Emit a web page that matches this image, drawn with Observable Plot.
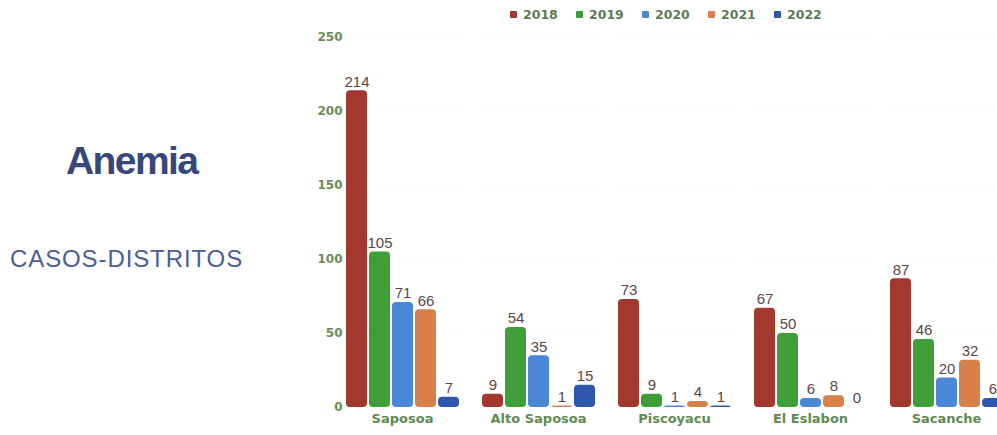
<!DOCTYPE html>
<html>
<head>
<meta charset="utf-8">
<script src="https://cdn.jsdelivr.net/npm/d3@7"></script>
<script src="https://cdn.jsdelivr.net/npm/@observablehq/plot@0.6"></script>
<style>
  html, body { margin: 0; padding: 0; background: #fff; overflow: hidden; width: 997px; height: 435px; }
  #wrap { position: relative; width: 997px; height: 435px; overflow: hidden; }
  #title { position: absolute; left: 66px; top: 139px; font-family: "Liberation Sans", Arial, sans-serif; font-weight: bold; font-size: 39px; color: #36487b; letter-spacing: -1.6px; }
  #subtitle { position: absolute; left: 10px; top: 245px; font-family: "Liberation Sans", Arial, sans-serif; font-size: 24px; color: #4a5d96; letter-spacing: 0.9px; white-space: nowrap; }
  #legend { position: absolute; top: 7px; left: 510px; display: flex; font-family: "DejaVu Sans", sans-serif; font-weight: bold; font-size: 12.5px; color: #5e7c52; }
  #legend .item { display: flex; align-items: center; width: 66px; }
  #legend .sw { width: 7px; height: 7px; border-radius: 1px; margin-right: 6px; }
  #chart { position: absolute; left: 0; top: 0; width: 1025px; }
  #chart svg { max-width: none !important; }
</style>
</head>
<body>
<div id="wrap">
  <div id="chart"></div>
  <div id="title">Anemia</div>
  <div id="subtitle">CASOS-DISTRITOS</div>
  <div id="legend"></div>
</div>
<script>
const districts = ["Saposoa", "Alto Saposoa", "Piscoyacu", "El Eslabon", "Sacanche"];
const years = ["2018", "2019", "2020", "2021", "2022"];
const v2018 = [214, 9, 73, 67, 87];
const v2019 = [105, 54, 9, 50, 46];
const v2020 = [71, 35, 1, 6, 20];
const v2021 = [66, 1, 4, 8, 32];
const v2022 = [7, 15, 1, 0, 6];
const yTicks = [0, 50, 100, 150, 200, 250];
const colors = ["#a3382f", "#3e9e38", "#4a87d6", "#d8804a", "#2e58ae"];

const series = [v2018, v2019, v2020, v2021, v2022];
const rows = [];
districts.forEach((d, i) => {
  years.forEach((y, j) => rows.push({district: d, year: y, value: series[j][i]}));
});

// legend
const leg = document.getElementById("legend");
years.forEach((y, j) => {
  const it = document.createElement("div");
  it.className = "item";
  const sw = document.createElement("span");
  sw.className = "sw";
  sw.style.background = colors[j];
  const t = document.createElement("span");
  t.textContent = y;
  it.appendChild(sw); it.appendChild(t);
  leg.appendChild(it);
});

const axisColor = "#6a8b5a";
const axisFont = "DejaVu Sans, sans-serif";
const chart = Plot.plot({
  width: 1025,
  height: 435,
  marginLeft: 333,
  marginRight: 10,
  marginTop: 37,
  marginBottom: 28,
  style: {fontFamily: "Liberation Sans, Arial, sans-serif", fontSize: "12px", background: "transparent", overflow: "visible", maxWidth: "none"},
  fx: {domain: districts, paddingInner: 0.15, paddingOuter: 0.075, label: null},
  x: {domain: years, paddingInner: 0.1, paddingOuter: 0, axis: null},
  y: {domain: [0, 250], ticks: yTicks, label: null},
  color: {domain: years, range: colors},
  marks: [
    Plot.gridY(yTicks.filter(t => t > 0), {stroke: "#000", strokeOpacity: 0.02}),
    Plot.axisY(yTicks, {tickSize: 0, tickPadding: 2, fill: axisColor, fontFamily: axisFont, fontWeight: "bold", fontSize: 12, label: null}),
    Plot.axisFx({anchor: "bottom", tickSize: 0, tickPadding: 6, fill: "#5e8a53", fontFamily: axisFont, fontWeight: "bold", fontSize: 13, label: null}),
    Plot.barY(rows, {fx: "district", x: "year", y: "value", fill: "year", rx: 4}),
    Plot.text(rows, {fx: "district", x: "year", y: "value", text: d => String(d.value), dy: -9, fill: "#5a4848", fontSize: 15})
  ]
});
document.getElementById("chart").appendChild(chart);
</script>
</body>
</html>
